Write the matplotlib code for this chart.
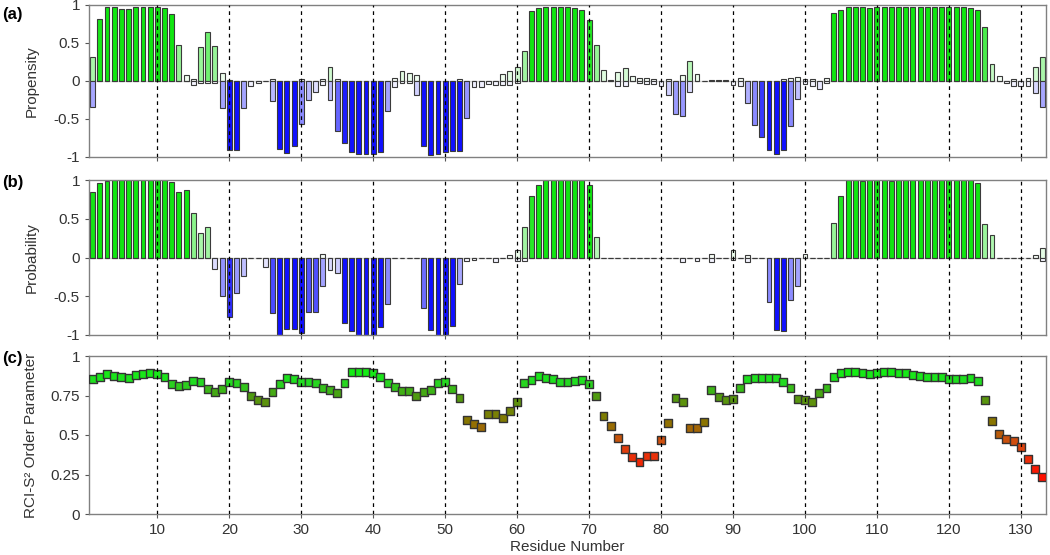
import numpy as np
import matplotlib
matplotlib.use("Agg")
import matplotlib.pyplot as plt
from matplotlib.colors import LinearSegmentedColormap, to_rgb

plt.rcParams['font.family'] = ['Liberation Sans', 'DejaVu Sans']

residues = np.arange(1, 134)

# Panel (a): helix propensity (positive) and strand propensity (negative)
prop_helix = [0.32, 0.82, 0.97, 0.97, 0.95, 0.95, 0.97, 0.97, 0.97, 0.98,
              0.96, 0.88, 0.48, 0.08, 0.02, 0.45, 0.64, 0.46, 0.10, 0.01,
              0.0, 0.0, 0.0, 0.0, 0.0, 0.02, 0.0, 0.0, 0.0, 0.02,
              0.0, 0.0, 0.03, 0.19, 0.02, 0.0, 0.0, 0.0, 0.0, 0.0,
              0.0, 0.0, 0.04, 0.13, 0.11, 0.08, 0.0, 0.0, 0.0, 0.0,
              0.0, 0.02, 0.0, 0.0, 0.0, 0.0, 0.0, 0.09, 0.13, 0.19,
              0.39, 0.92, 0.96, 0.98, 0.97, 0.97, 0.97, 0.96, 0.94, 0.80,
              0.48, 0.14, 0.01, 0.12, 0.17, 0.07, 0.04, 0.04, 0.02, 0.0,
              0.02, 0.0, 0.08, 0.26, 0.09, 0.0, 0.01, 0.01, 0.01, 0.0,
              0.04, 0.0, 0.0, 0.0, 0.0, 0.0, 0.02, 0.04, 0.05, 0.02,
              0.03, 0.0, 0.04, 0.90, 0.93, 0.97, 0.97, 0.98, 0.96, 0.97,
              0.97, 0.97, 0.97, 0.97, 0.98, 0.97, 0.97, 0.97, 0.97, 0.97,
              0.97, 0.97, 0.96, 0.93, 0.71, 0.23, 0.06, 0.0, 0.02, 0.0,
              0.04, 0.19, 0.31]
prop_strand = [-0.34, 0.0, 0.0, 0.0, 0.0, 0.0, 0.0, 0.0, 0.0, 0.0,
               0.0, 0.0, 0.0, 0.0, -0.05, -0.02, -0.02, -0.02, -0.36, -0.91,
               -0.91, -0.36, -0.07, -0.02, 0.0, -0.26, -0.90, -0.95, -0.85, -0.57,
               -0.25, -0.14, -0.05, -0.25, -0.66, -0.81, -0.93, -0.96, -0.96, -0.96,
               -0.94, -0.39, -0.08, -0.03, -0.03, -0.18, -0.86, -0.98, -0.96, -0.94,
               -0.92, -0.92, -0.49, -0.08, -0.08, -0.04, -0.05, -0.05, -0.05, -0.02,
               0.0, 0.0, 0.0, 0.0, 0.0, 0.0, 0.0, 0.0, 0.0, 0.0,
               0.0, 0.0, 0.0, -0.07, -0.07, 0.0, -0.03, -0.04, -0.04, -0.07,
               -0.19, -0.43, -0.46, -0.15, 0.0, 0.0, 0.0, 0.0, 0.0, -0.05,
               -0.07, -0.29, -0.58, -0.74, -0.91, -0.96, -0.91, -0.59, -0.24, -0.04,
               -0.06, -0.11, -0.03, 0.0, 0.0, 0.0, 0.0, 0.0, 0.0, 0.0,
               0.0, 0.0, 0.0, 0.0, 0.0, 0.0, 0.0, 0.0, 0.0, 0.0,
               0.0, 0.0, 0.0, 0.0, 0.0, 0.0, 0.0, -0.02, -0.07, -0.06,
               -0.07, -0.16, -0.34]

# Panel (b): helix probability (positive) and strand probability (negative)
prob_helix = [0.84, 0.96, 0.99, 1.0, 1.0, 1.0, 1.0, 1.0, 1.0, 1.0,
              1.0, 0.97, 0.85, 0.87, 0.57, 0.31, 0.39, 0.0, 0.0, 0.0,
              0.0, 0.0, 0.0, 0.0, 0.0, 0.0, 0.0, 0.0, 0.0, 0.0,
              0.0, 0.0, 0.04, 0.0, 0.0, 0.0, 0.0, 0.0, 0.0, 0.0,
              0.0, 0.0, 0.0, 0.0, 0.0, 0.0, 0.0, 0.0, 0.0, 0.0,
              0.0, 0.0, 0.0, 0.0, 0.0, 0.0, 0.0, 0.0, 0.03, 0.10,
              0.39, 0.79, 0.94, 1.0, 1.0, 1.0, 1.0, 1.0, 1.0, 0.94,
              0.27, 0.0, 0.0, 0.0, 0.0, 0.0, 0.0, 0.0, 0.0, 0.0,
              0.0, 0.0, 0.0, 0.0, 0.0, 0.0, 0.04, 0.0, 0.0, 0.10,
              0.0, 0.03, 0.0, 0.0, 0.0, 0.0, 0.0, 0.0, 0.0, 0.04,
              0.0, 0.0, 0.0, 0.45, 0.80, 1.0, 1.0, 0.99, 1.0, 1.0,
              1.0, 0.99, 1.0, 1.0, 1.0, 1.0, 1.0, 1.0, 1.0, 1.0,
              1.0, 1.0, 1.0, 0.96, 0.43, 0.29, 0.0, 0.0, 0.0, 0.0,
              0.0, 0.03, 0.12]
prob_strand = [0.0, 0.0, 0.0, 0.0, 0.0, 0.0, 0.0, 0.0, 0.0, 0.0,
               0.0, 0.0, 0.0, 0.0, 0.0, 0.0, 0.0, -0.15, -0.50, -0.77,
               -0.46, -0.24, 0.0, 0.0, -0.12, -0.71, -1.0, -0.92, -0.92, -0.97,
               -0.70, -0.70, -0.37, -0.16, -0.20, -0.85, -0.95, -1.0, -1.0, -1.0,
               -0.90, -0.60, 0.0, 0.0, 0.0, 0.0, -0.65, -0.93, -1.0, -1.0,
               -0.89, -0.34, -0.04, -0.03, 0.0, 0.0, -0.06, 0.0, 0.0, -0.05,
               -0.04, 0.0, 0.0, 0.0, 0.0, 0.0, 0.0, 0.0, 0.0, 0.0,
               0.0, 0.0, 0.0, 0.0, 0.0, 0.0, 0.0, 0.0, 0.0, 0.0,
               -0.01, -0.01, -0.06, 0.0, -0.04, 0.0, -0.06, 0.0, -0.01, -0.03,
               -0.01, -0.06, 0.0, 0.0, -0.57, -0.93, -0.95, -0.55, -0.37, 0.0,
               -0.01, 0.0, 0.0, 0.0, 0.0, 0.0, 0.0, 0.0, 0.0, 0.0,
               0.0, 0.0, 0.0, 0.0, 0.0, 0.0, 0.0, 0.0, 0.0, 0.0,
               0.0, 0.0, 0.0, 0.0, 0.0, 0.0, 0.0, 0.0, 0.0, 0.0,
               0.0, 0.0, -0.04]

# Panel (c): RCI-S2 order parameter
rci_s2 = [0.852, 0.869, 0.884, 0.873, 0.869, 0.863, 0.880, 0.884, 0.890, 0.884,
          0.869, 0.823, 0.812, 0.816, 0.844, 0.833, 0.789, 0.770, 0.789, 0.833,
          0.827, 0.806, 0.749, 0.722, 0.711, 0.770, 0.821, 0.859, 0.852, 0.838,
          0.838, 0.831, 0.800, 0.785, 0.764, 0.831, 0.897, 0.897, 0.901, 0.890,
          0.869, 0.827, 0.806, 0.778, 0.778, 0.749, 0.770, 0.785, 0.827, 0.833,
          0.791, 0.736, 0.595, 0.568, 0.553, 0.633, 0.633, 0.610, 0.652, 0.707,
          0.831, 0.848, 0.876, 0.863, 0.852, 0.838, 0.833, 0.842, 0.848, 0.821,
          0.747, 0.620, 0.559, 0.483, 0.409, 0.359, 0.331, 0.367, 0.367, 0.468,
          0.574, 0.736, 0.711, 0.542, 0.542, 0.584, 0.785, 0.738, 0.722, 0.728,
          0.795, 0.852, 0.859, 0.859, 0.863, 0.863, 0.838, 0.795, 0.728, 0.720,
          0.707, 0.764, 0.795, 0.869, 0.890, 0.901, 0.897, 0.890, 0.884, 0.890,
          0.897, 0.897, 0.890, 0.890, 0.880, 0.873, 0.869, 0.869, 0.869, 0.852,
          0.852, 0.852, 0.863, 0.842, 0.722, 0.589, 0.504, 0.473, 0.462, 0.426,
          0.348, 0.283, 0.236]

x_ticks = list(range(10, 131, 10))

GREEN = np.array(to_rgb('#10e610'))
BLUE = np.array(to_rgb('#1010ff'))
WHITE = np.array([1.0, 1.0, 1.0])
EDGE = '#3a3a3a'


def shade(base, v):
    f = np.interp(abs(v), [0, 0.1, 0.3, 0.6, 0.75, 0.85, 1.0],
                  [0, 0.08, 0.35, 0.5, 0.85, 1.0, 1.0])
    return tuple(WHITE * (1 - f) + base * f)


fig = plt.figure(figsize=(10.5, 5.55), dpi=100)
L, W = 89 / 1050, (1046 - 89) / 1050


def fy(top, bottom):
    return (1 - bottom / 555, (bottom - top) / 555)


ax_a = fig.add_axes([L, fy(5, 157)[0], W, fy(5, 157)[1]])
ax_b = fig.add_axes([L, fy(180, 335)[0], W, fy(180, 335)[1]])
ax_c = fig.add_axes([L, fy(356, 514)[0], W, fy(356, 514)[1]])


def bar_panel(ax, pos, neg):
    ax.axhline(0, color='#d8d8d8', lw=1.0, zorder=1)
    ax.bar(residues, pos, width=0.68, color=[shade(GREEN, v) for v in pos],
           edgecolor=EDGE, linewidth=0.8, zorder=2)
    ax.bar(residues, neg, width=0.68, color=[shade(BLUE, v) for v in neg],
           edgecolor=EDGE, linewidth=0.8, zorder=2)
    ax.set_ylim(-1, 1)
    ax.set_yticks([-1, -0.5, 0, 0.5, 1])
    ax.set_yticklabels(['-1', '-0.5', '0', '0.5', '1'])


bar_panel(ax_a, prop_helix, prop_strand)
bar_panel(ax_b, prob_helix, prob_strand)

cmap = LinearSegmentedColormap.from_list(
    'rci', [(0.0, '#ff1000'), (0.3, '#d84a10'), (0.5, '#8a7400'),
            (0.75, '#4e9c10'), (0.88, '#22dd22'), (1.0, '#10f010')])
norm_vals = np.clip((np.array(rci_s2) - 0.25) / (0.92 - 0.25), 0, 1)
ax_c.scatter(residues, rci_s2, s=32, marker='s', c=cmap(norm_vals),
             edgecolors='#333333', linewidths=1.0, zorder=3)
ax_c.set_ylim(0, 1)
ax_c.set_yticks([0, 0.25, 0.5, 0.75, 1])
ax_c.set_yticklabels(['0', '0.25', '0.5', '0.75', '1'])

for ax in (ax_a, ax_b, ax_c):
    ax.set_xlim(0.5, 133.5)
    ax.set_xticks(x_ticks)
    for xv in x_ticks:
        ax.axvline(xv, color='black', lw=0.9, ls=(0, (3, 3)), zorder=4)
    for s in ax.spines.values():
        s.set_color('#808080')
        s.set_linewidth(1.0)
    ax.tick_params(direction='out', length=3, width=0.8, color='#555555',
                   labelsize=11, labelcolor='#333333')
    ax.yaxis.set_label_coords(-0.053, 0.5)

ax_a.tick_params(labelbottom=False)
ax_b.tick_params(labelbottom=False)
ax_c.set_xticklabels([str(v) for v in x_ticks])

ax_a.set_ylabel('Propensity', fontsize=11, color='#333333')
ax_b.set_ylabel('Probability', fontsize=11, color='#333333')
ax_c.set_ylabel('RCI-S² Order Parameter', fontsize=11, color='#333333')
ax_c.set_xlabel('Residue Number', fontsize=11, color='#333333', labelpad=2)

fig.text(0.002, 1 - 14 / 555, '(a)', fontsize=12, fontweight='bold', va='center')
fig.text(0.002, 1 - 183 / 555, '(b)', fontsize=12, fontweight='bold', va='center')
fig.text(0.002, 1 - 358 / 555, '(c)', fontsize=12, fontweight='bold', va='center')

fig.savefig('out.png', dpi=100)
